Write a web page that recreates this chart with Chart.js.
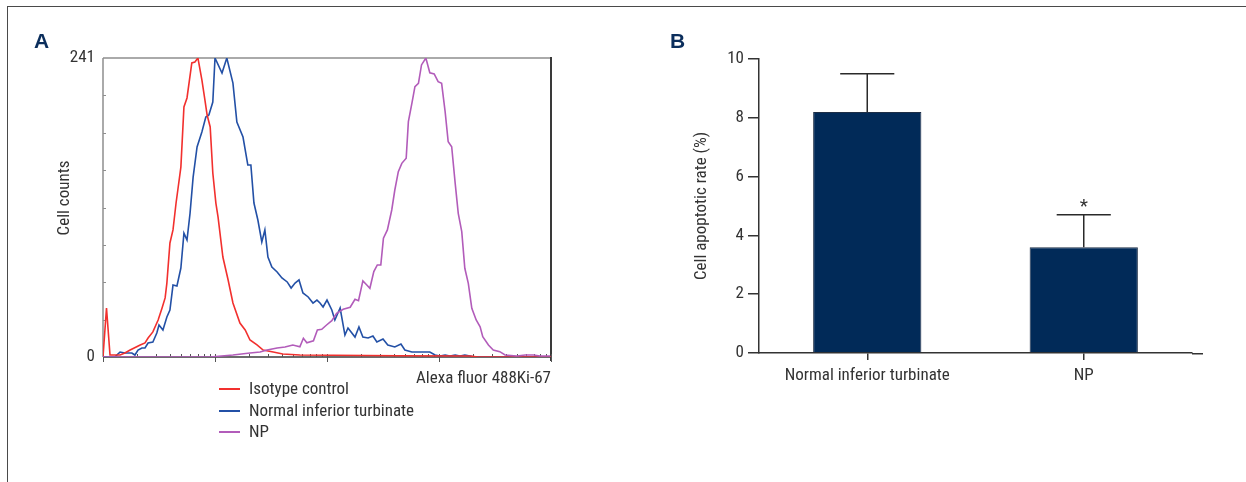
<!DOCTYPE html>
<html><head><meta charset="utf-8">
<script src="https://cdn.jsdelivr.net/npm/chart.js@4.4.1/dist/chart.umd.min.js"></script>
<style>
html,body{margin:0;padding:0;background:#fff;}
body{width:1246px;height:482px;position:relative;overflow:hidden;color:#333;}
#frame{position:absolute;left:7px;top:6px;width:1300px;height:600px;border-top:1px solid #4a4a4a;border-left:1px solid #4a4a4a;}
#cA{position:absolute;left:0;top:0;}
#cB{position:absolute;left:620px;top:0;}
.plabel{position:absolute;font-family:"Liberation Sans",Arial,sans-serif;font-weight:bold;font-size:21px;line-height:21px;color:#0b2e5c;}
.ytitle{position:absolute;line-height:20px;white-space:nowrap;transform:translate(-50%,-50%) rotate(-90deg);}
#legend{position:absolute;left:219px;top:378px;}
.lrow{position:relative;height:21.7px;line-height:21.7px;padding-left:30px;white-space:nowrap;}
.lrow i{position:absolute;left:0;top:10px;width:21px;height:2px;}
</style></head>
<body>
<div id="frame"></div>
<canvas id="cA" width="620" height="482"></canvas>
<canvas id="cB" width="626" height="482"></canvas>
<div class="plabel" style="left:34px;top:30px;">A</div>
<div class="plabel" style="left:670px;top:30px;">B</div>
<div class="ytitle" id="yTitleA" style="left:63px;top:197.5px;"></div>
<div id="legend"></div>
<script>
// ---------- Panel A data (histogram, channel 0-1024 over 4 log decades) ----------
const seriesNames = ['Isotype control', 'Normal inferior turbinate', 'NP'];
const seriesColors = ['#f2302e', '#2350a6', '#b25cba'];
const xTitleA = 'Alexa fluor 488Ki-67';
const yTitleA = 'Cell counts';
const yTicksA = [0, 241];
const channelsPerDecade = 256;

const isoCh = [0,8,16,39,50,62,77,85,96,103,114,126,135,142,146,153,160,167,171,178,185,192,203,210,217,226,233,238,245,251,258,263,274,286,297,313,325,336,352,366,389,411,450,679,839,857,1024];
const isoCount = [0,39.5,1.6,1.6,3.2,5.6,8.3,9.7,11.3,15.3,20.2,29.8,39.5,47.6,59.6,91.9,102.4,124.1,134.6,153.1,201.5,208.8,237,237.8,241,223.3,207.1,195,185.4,148.3,124.1,112.8,80.6,62.1,43.5,27.4,21.8,13.7,9.7,5.6,4,2.4,1.6,1,0.8,0,0];

const nitCh = [0,27,34,39,50,66,73,80,89,96,103,114,123,128,137,146,153,160,169,178,185,192,199,206,215,226,235,242,251,256,272,283,297,306,320,331,338,345,354,363,370,377,386,398,409,421,430,439,448,457,469,480,489,496,503,512,523,530,542,553,560,576,585,594,606,617,626,640,651,667,681,690,706,747,759,770,782,793,805,816,827,839,850,1024];
const nitCount = [0,0,2.4,4,3.2,3.2,1.6,5.6,7.3,7.3,11.3,12.1,19.3,25.8,21.8,32.2,37.9,58,57.2,71.7,99.9,94.3,116,145,169.3,181.4,193.4,195,205.5,241,228.9,241,220.8,189.4,177.3,154.8,154.8,124.1,110.4,92.7,102.4,80.6,72.5,68.5,63.7,60.5,55.6,59.6,62.1,51.6,48.4,43.5,45.9,43.5,40.3,45.9,37.9,29.8,39.5,17.7,23.4,16.1,24.2,16.1,15.3,16.9,12.1,14.5,9.7,8.1,10.5,5.6,4,4,1.6,0.8,1.6,0.8,1.6,0.8,1.6,0.8,0,0];

const npCh = [0,245,297,336,359,375,398,416,434,450,458,466,481,490,500,511,523,534,549,565,576,584,594,603,610,619,627,635,641,650,660,667,675,683,693,698,706,713,721,728,738,747,757,766,774,782,789,797,805,812,820,827,835,843,853,862,868,881,892,907,919,946,965,984,999,1022];
const npCount = [0,0,1.6,3.2,4,5.6,7.3,8.1,9.7,8.3,15.1,11.5,13.1,21.8,22.3,25.8,29.3,35.2,38.4,40.1,46.5,45.4,61.3,58,55.4,68.8,74.2,74.2,95.7,102.4,118.5,134.6,149.4,156.1,160.2,189.7,204.5,217.9,220.6,235.4,241,229.1,228.1,221.9,220.6,197.7,173.5,169.5,140,115.8,101,71.5,59.4,39.3,29.8,24.4,16.4,9.7,5.6,4.3,1.6,0.8,1.6,1.6,0.8,0.8];

// ---------- Panel B data ----------
const categoriesB = ['Normal inferior turbinate', 'NP'];
const ratesB = [8.2, 3.6];
const errorsB = [1.3, 1.1];
const marksB = ['', '*'];
const yTitleB = 'Cell apoptotic rate (%)';

// ---------- font choice: narrowest installed condensed face, sized to the reference text width ----------
function pickFont() {
  const c = document.createElement('canvas').getContext('2d');
  const sample = 'Normal inferior turbinate';
  const cands = ['Liberation Sans Narrow', 'Noto Sans Condensed', 'Noto Sans SemiCondensed', 'Roboto Condensed', 'Open Sans Condensed', 'DejaVu Sans Condensed'];
  for (const f of cands) {
    let ok = false;
    for (const b of ['monospace', 'serif']) {
      c.font = '18px ' + b; const w0 = c.measureText(sample).width;
      c.font = '18px "' + f + '", ' + b; if (Math.abs(c.measureText(sample).width - w0) > 0.5) ok = true;
    }
    if (ok) {
      c.font = '18px "' + f + '", sans-serif';
      const w = c.measureText(sample).width;
      return { family: '"' + f + '", sans-serif', size: Math.max(13, Math.min(19, 18 * 165 / w)) };
    }
  }
  return { family: 'sans-serif', size: 15 };
}
const PF = pickFont();
const FAMILY = PF.family;
const FS = Math.round(PF.size * 10) / 10;
const TXT = '#333';

document.body.style.fontFamily = FAMILY;
document.body.style.fontSize = FS + 'px';
document.getElementById('yTitleA').textContent = yTitleA;
const leg = document.getElementById('legend');
seriesNames.forEach((n, i) => {
  const r = document.createElement('div'); r.className = 'lrow';
  const m = document.createElement('i'); m.style.background = seriesColors[i];
  r.appendChild(m); r.appendChild(document.createTextNode(n)); leg.appendChild(r);
});

const pairs = (xs, ys) => xs.map((x, i) => ({x, y: ys[i]}));
function seg(ctx, x1, y1, x2, y2) { ctx.beginPath(); ctx.moveTo(x1, y1); ctx.lineTo(x2, y2); ctx.stroke(); }

const frameA = {
  id: 'frameA',
  beforeDatasetsDraw(chart) {
    const {ctx, chartArea: {left, right, top, bottom}, scales: {x, y}} = chart;
    ctx.save();
    ctx.lineWidth = 1.5; ctx.strokeStyle = '#8e8e8e';
    seg(ctx, left, top, right, top);
    seg(ctx, left, top, left, bottom);
    ctx.lineWidth = 1;
    for (let k = 1; k < 8; k++) { const yy = Math.round(y.getPixelForValue(241 * k / 8)) + 0.5; seg(ctx, left, yy, left + 3, yy); }
    ctx.strokeStyle = '#3a3a3a'; ctx.lineWidth = 2;
    seg(ctx, right, top - 1, right, bottom + 4);
    ctx.lineWidth = 1.5;
    seg(ctx, left, bottom, right, bottom);
    ctx.lineWidth = 1; ctx.strokeStyle = '#555';
    for (let d = 0; d < 4; d++) {
      for (let m = 2; m <= 9; m++) {
        const xx = Math.round(x.getPixelForValue(channelsPerDecade * (d + Math.log10(m)))) + 0.5;
        seg(ctx, xx, bottom, xx, bottom - 3);
      }
    }
    for (let d = 0; d <= 4; d++) {
      const xx = Math.round(x.getPixelForValue(channelsPerDecade * d)) + 0.5;
      seg(ctx, xx, bottom - 3, xx, bottom + 5);
    }
    ctx.restore();
  }
};

const LH = 1.2 * FS;
const XH_A = LH + 12;
new Chart(document.getElementById('cA'), {
  type: 'line',
  data: { datasets: [
    {label: seriesNames[0], data: pairs(isoCh, isoCount), borderColor: seriesColors[0], order: 1},
    {label: seriesNames[1], data: pairs(nitCh, nitCount), borderColor: seriesColors[1], order: 2},
    {label: seriesNames[2], data: pairs(npCh, npCount), borderColor: seriesColors[2], order: 0}
  ]},
  options: {
    responsive: false, animation: false,
    elements: { line: { borderWidth: 1.6, tension: 0 }, point: { radius: 0 } },
    plugins: { legend: { display: false }, tooltip: { enabled: false } },
    layout: { padding: { left: 0, top: 58, right: 69, bottom: 482 - 357 - XH_A } },
    scales: {
      x: { type: 'linear', min: 0, max: 1024,
        grid: { display: false, drawTicks: false }, border: { display: false }, ticks: { display: false },
        title: { display: true, text: xTitleA, align: 'end', color: TXT, font: { size: FS, family: FAMILY }, padding: { top: 12, bottom: 0 } },
        afterFit: s => { s.height = XH_A; } },
      y: { type: 'linear', min: 0, max: 241,
        grid: { display: false, drawTicks: false }, border: { display: false },
        afterBuildTicks: s => { s.ticks = yTicksA.map(v => ({ value: v })); },
        ticks: { padding: 8, color: TXT, font: { size: FS, family: FAMILY }, callback: v => String(v) },
        afterFit: s => { s.width = 103; } }
    }
  },
  plugins: [frameA]
});

const errorBars = {
  id: 'errorBars',
  afterDatasetsDraw(chart) {
    const {ctx, chartArea, scales: {y}} = chart;
    const meta = chart.getDatasetMeta(0);
    ctx.save();
    ctx.strokeStyle = '#2a2a2a'; ctx.lineWidth = 1.5;
    meta.data.forEach((bar, i) => {
      const x = bar.x;
      const yb = y.getPixelForValue(ratesB[i]);
      const yt = y.getPixelForValue(ratesB[i] + errorsB[i]);
      const hw = bar.width * 0.25;
      seg(ctx, x, yb, x, yt);
      seg(ctx, x - hw, yt, x + hw, yt);
      if (marksB[i]) {
        ctx.fillStyle = TXT; ctx.font = (FS + 2) + 'px ' + FAMILY;
        ctx.textAlign = 'center'; ctx.textBaseline = 'alphabetic';
        ctx.fillText(marksB[i], x, yt - 3);
      }
    });
    ctx.strokeStyle = '#333';
    seg(ctx, chartArea.right, chartArea.bottom + 0.75, chartArea.right + 11, chartArea.bottom + 0.75);
    ctx.restore();
  }
};

const XH_B = 7 + 6 + LH;
new Chart(document.getElementById('cB'), {
  type: 'bar',
  data: { labels: categoriesB, datasets: [{ data: ratesB, backgroundColor: '#012a58', borderColor: '#1d2e46', borderWidth: 1, barPercentage: 0.5, categoryPercentage: 1 }] },
  options: {
    responsive: false, animation: false,
    plugins: { legend: { display: false }, tooltip: { enabled: false } },
    layout: { padding: { left: 60, top: 59, right: 54, bottom: 482 - 353 - XH_B } },
    scales: {
      x: { grid: { display: true, offset: false, drawOnChartArea: false, drawTicks: true, tickLength: 7, color: '#333', lineWidth: 1.5 },
        border: { display: true, color: '#333', width: 1.5 },
        ticks: { padding: 6, color: TXT, font: { size: FS, family: FAMILY }, maxRotation: 0, autoSkip: false },
        afterFit: s => { s.height = XH_B; } },
      y: { min: 0, max: 10,
        ticks: { stepSize: 2, padding: 4, color: TXT, font: { size: FS, family: FAMILY } },
        grid: { drawOnChartArea: false, tickLength: 11, color: '#333', lineWidth: 1.5 },
        border: { color: '#333', width: 1.5 },
        title: { display: true, text: yTitleB, color: TXT, font: { size: FS, family: FAMILY }, padding: { top: 81.7 - 60 - LH / 2, bottom: 0 } },
        afterFit: s => { s.width = 79; } }
    }
  },
  plugins: [errorBars]
});
</script>
</body></html>
